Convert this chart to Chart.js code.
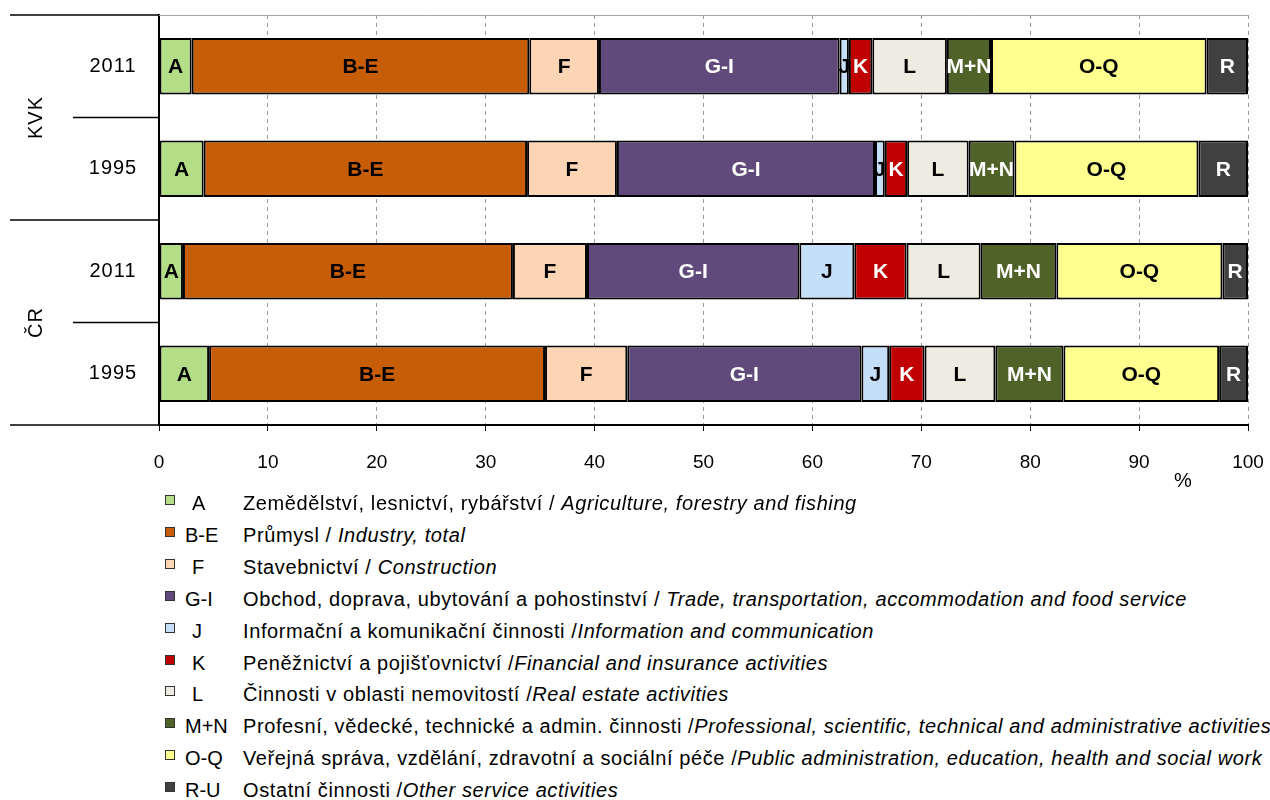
<!DOCTYPE html>
<html>
<head>
<meta charset="utf-8">
<script src="https://cdn.jsdelivr.net/npm/chart.js@4.4.0/dist/chart.umd.min.js"></script>
<style>
  html, body { margin: 0; background: #fff; overflow: hidden; font-family: "Liberation Sans", Arial, sans-serif; }
  #wrap { position: relative; width: 1270px; height: 490px; }
  #legend { position: absolute; left: 0; top: 0; width: 1270px; }
  .row { position: absolute; left: 0; height: 32px; line-height: 32px; font-size: 20px; letter-spacing: 0.6px; color: #000; white-space: nowrap; }
  .mark { position: absolute; left: 165px; top: 8px; width: 8px; height: 8px; border: 1px solid #333; }
  .code { position: absolute; left: 185px; letter-spacing: 0; }
  .desc { position: absolute; left: 243px; }
</style>
</head>
<body>
<div id="wrap"><canvas id="myChart"></canvas></div>
<div id="legend"></div>
<script>
// bars from top to bottom
let categories = ['2011', '1995', '2011', '1995']
let groups = ['KVK', 'ČR']

let sectorCodes = ['A', 'B-E', 'F', 'G-I', 'J', 'K', 'L', 'M+N', 'O-Q', 'R-U']
let barLabels = ['A', 'B-E', 'F', 'G-I', 'J', 'K', 'L', 'M+N', 'O-Q', 'R']

// shares in % : KVK 2011, KVK 1995, ČR 2011, ČR 1995
let valA = [3.0, 4.1, 2.2, 4.6]
let valBE = [31.0, 29.7, 30.3, 30.85]
let valF = [6.4, 8.25, 6.8, 7.55]
let valGI = [22.1, 23.7, 19.5, 21.5]
let valJ = [0.85, 0.9, 5.05, 2.55]
let valK = [2.15, 2.05, 4.8, 3.25]
let valL = [6.85, 5.65, 6.8, 6.5]
let valMN = [4.05, 4.2, 6.95, 6.25]
let valOQ = [19.8, 16.9, 15.25, 14.3]
let valR = [3.8, 4.55, 2.35, 2.65]

let xTicks = [0, 10, 20, 30, 40, 50, 60, 70, 80, 90, 100]

let czNames = [
    'Zemědělství, lesnictví, rybářství / ',
    'Průmysl / ',
    'Stavebnictví / ',
    'Obchod, doprava, ubytování a pohostinství / ',
    'Informační a komunikační činnosti /',
    'Peněžnictví a pojišťovnictví /',
    'Činnosti v oblasti nemovitostí /',
    'Profesní, vědecké, technické a admin. činnosti /',
    'Veřejná správa, vzdělání, zdravotní a sociální péče /',
    'Ostatní činnosti /'
]
let enNames = [
    'Agriculture, forestry and fishing',
    'Industry, total',
    'Construction',
    'Trade, transportation, accommodation and food service',
    'Information and communication',
    'Financial and insurance activities',
    'Real estate activities',
    'Professional, scientific, technical and administrative activities',
    'Public administration, education, health and social work',
    'Other service activities'
]

let colors = ['#b3de87', '#c85d08', '#fcd5b4', '#604a7b', '#c6dff8', '#c00000', '#eeece1', '#4f6228', '#ffff8f', '#404040']
let textColors = ['#000', '#000', '#000', '#fff', '#000', '#fff', '#000', '#fff', '#000', '#fff']
let seriesValues = [valA, valBE, valF, valGI, valJ, valK, valL, valMN, valOQ, valR]

let datasets = sectorCodes.map(function(code, i) {
    return {
        label: code,
        data: seriesValues[i],
        backgroundColor: colors[i],
        borderColor: '#000',
        borderWidth: 2,
        borderSkipped: false,
        barPercentage: 0.55,
        categoryPercentage: 1
    }
})

// labels in the bars, left side labels, separators
let extras = {
    id: 'extras',
    afterDatasetsDraw: function(chart) {
        let c = chart.ctx
        let area = chart.chartArea
        let y = chart.scales.y
        c.save()
        c.textAlign = 'center'
        c.textBaseline = 'middle'
        c.font = 'bold 21px "Liberation Sans", Arial, sans-serif'
        chart.data.datasets.forEach(function(ds, i) {
            chart.getDatasetMeta(i).data.forEach(function(bar) {
                c.fillStyle = textColors[i]
                c.fillText(barLabels[i], (bar.x + bar.base) / 2, bar.y + 1)
            })
        })

        // top border
        c.strokeStyle = '#a6a6a6'
        c.lineWidth = 1
        c.beginPath()
        c.moveTo(area.left, area.top + 0.5)
        c.lineTo(area.right, area.top + 0.5)
        c.stroke()

        // left separators
        c.strokeStyle = '#000'
        c.lineWidth = 1.5
        let bounds = [area.top]
        for (let i = 0; i < categories.length - 1; i++) {
            bounds.push((y.getPixelForValue(i) + y.getPixelForValue(i + 1)) / 2)
        }
        bounds.push(area.bottom)
        bounds.forEach(function(b, i) {
            c.beginPath()
            c.moveTo(i % 2 === 0 ? 10 : 73, b)
            c.lineTo(area.left, b)
            c.stroke()
        })

        c.fillStyle = '#000'
        c.font = '20px "Liberation Sans", Arial, sans-serif'
        c.letterSpacing = '1px'
        categories.forEach(function(cat, i) {
            c.fillText(cat, 113, y.getPixelForValue(i))
        })
        groups.forEach(function(g, i) {
            let gy = (y.getPixelForValue(i * 2) + y.getPixelForValue(i * 2 + 1)) / 2
            c.save()
            c.translate(36, gy)
            c.rotate(-Math.PI / 2)
            c.fillText(g, 0, 0)
            c.restore()
        })
        c.letterSpacing = '0px'

        c.fillText('%', area.right - 65, area.bottom + 56)
        c.restore()
    }
}

let ctx = document.getElementById('myChart').getContext('2d')
let chart = new Chart(ctx, {
    type: 'bar',
    data: {
        labels: categories,
        datasets: datasets
    },
    options: {
        indexAxis: 'y',
        responsive: true,
        maintainAspectRatio: false,
        animation: false,
        layout: { padding: { top: 15, right: 22, left: 0, bottom: 0 } },
        plugins: {
            legend: { display: false },
            tooltip: { enabled: false }
        },
        scales: {
            x: {
                stacked: true,
                min: 0,
                max: 100,
                afterBuildTicks: function(scale) {
                    scale.ticks = xTicks.map(function(v) { return { value: v } })
                },
                afterFit: function(scale) {
                    scale.height = 65
                    scale.paddingLeft = 0
                    scale.paddingRight = 0
                },
                grid: {
                    color: '#9a9a9a',
                    tickColor: '#000',
                    tickBorderDash: [],
                    tickLength: 6,
                    lineWidth: 1
                },
                border: { display: true, color: '#000', width: 2, dash: [4, 4] },
                ticks: {
                    color: '#000',
                    padding: 20,
                    font: { family: '"Liberation Sans", Arial, sans-serif', size: 19 }
                }
            },
            y: {
                stacked: true,
                afterFit: function(scale) { scale.width = 159 },
                grid: { display: false },
                border: { display: true, color: '#000', width: 2 },
                ticks: { display: false }
            }
        }
    },
    plugins: [extras]
})

// legend below the chart
let legend = document.getElementById('legend')
sectorCodes.forEach(function(code, i) {
    let row = document.createElement('div')
    row.className = 'row'
    row.style.top = (487 + i * 31.9) + 'px'
    let mark = document.createElement('span')
    mark.className = 'mark'
    mark.style.background = colors[i]
    let codeEl = document.createElement('span')
    codeEl.className = 'code'
    codeEl.textContent = code
    if (code.length === 1) codeEl.style.left = '192px'
    let desc = document.createElement('span')
    desc.className = 'desc'
    desc.textContent = czNames[i]
    let en = document.createElement('i')
    en.textContent = enNames[i]
    desc.appendChild(en)
    row.appendChild(mark)
    row.appendChild(codeEl)
    row.appendChild(desc)
    legend.appendChild(row)
})
</script>
</body>
</html>
